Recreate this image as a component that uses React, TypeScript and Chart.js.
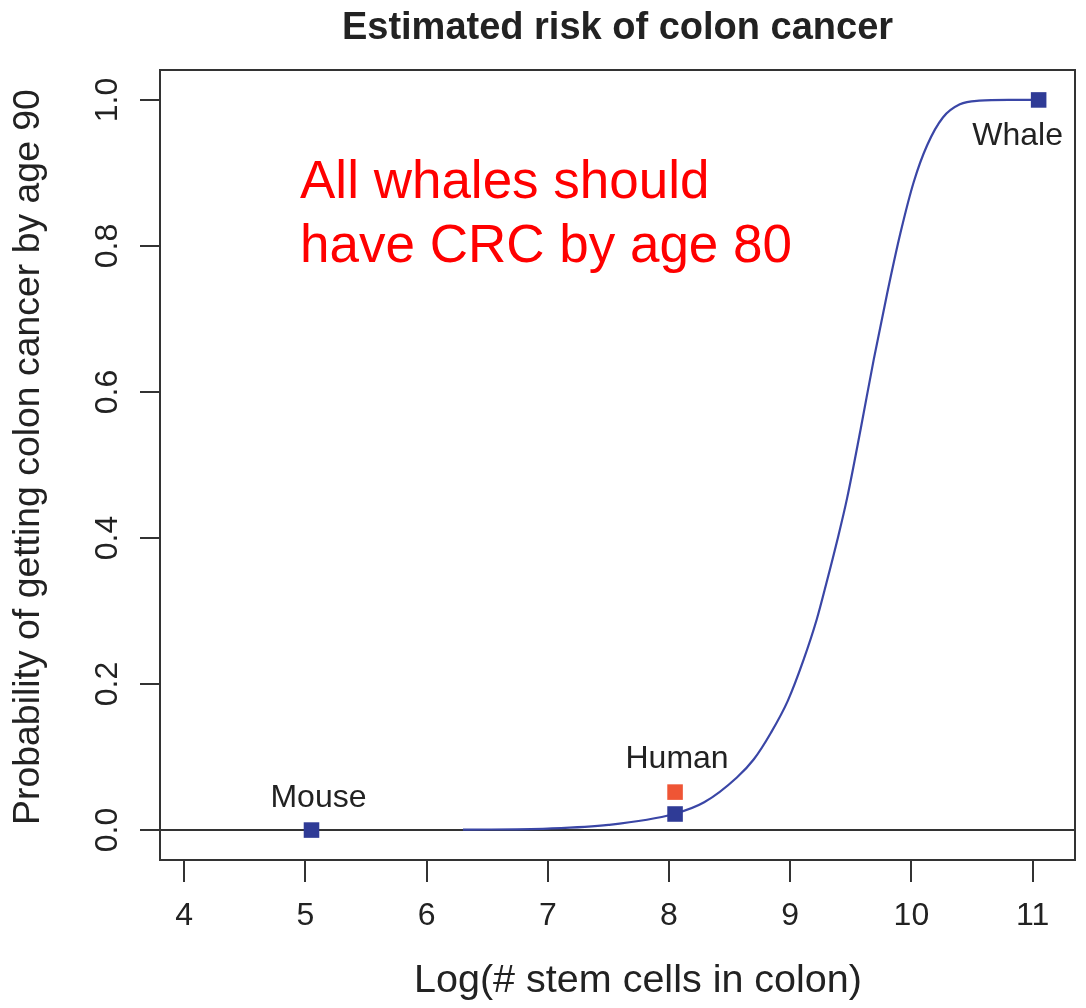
import React, { useEffect, useRef } from "react";
import { Chart, registerables } from "chart.js";

Chart.register(...registerables);

// ---- data ----
const curveX = [6.3, 7.0, 7.5, 8.04, 8.29, 8.56, 8.7, 8.84, 8.98, 9.11, 9.22, 9.3, 9.39, 9.47, 9.58, 9.69, 9.8, 9.91, 10.02, 10.13, 10.26, 10.4, 10.56, 10.8, 11.05];
const curveY = [0.0005, 0.002, 0.007, 0.022, 0.038, 0.072, 0.097, 0.133, 0.177, 0.233, 0.289, 0.339, 0.398, 0.455, 0.548, 0.645, 0.735, 0.818, 0.888, 0.938, 0.976, 0.994, 0.999, 1.0, 1.0];

const pointNames = ["Mouse", "Human", "Whale"];
const pointX = [5.05, 8.05, 11.05];
const pointY = [0.0, 0.022, 1.0];

const humanRiskX = [8.05];
const humanRiskY = [0.052];

const xTicks = [4, 5, 6, 7, 8, 9, 10, 11];
const yTicks = [0, 0.2, 0.4, 0.6, 0.8, 1.0];

const titleText = "Estimated risk of colon cancer";
const xTitle = "Log(# stem cells in colon)";
const yTitle = "Probability of getting colon cancer by age 90";
const noteLines = ["All whales should", "have CRC by age 80"];

const FONT = '"Liberation Sans", Arial, Helvetica, sans-serif';
const INK = "#222222";
const AXIS = "#333333";
const BLUE = "#2f3b96";
const LINE_BLUE = "#3a46a6";
const RED = "#ef5535";

const annotPlugin = {
  id: "annot",
  beforeDatasetsDraw(chart: any) {
    const { ctx, chartArea, scales } = chart;
    const y0 = scales.y.getPixelForValue(0);
    ctx.save();
    ctx.strokeStyle = AXIS;
    ctx.lineWidth = 2;
    ctx.beginPath();
    ctx.moveTo(chartArea.left, y0);
    ctx.lineTo(chartArea.right, y0);
    ctx.stroke();
    ctx.restore();
  },
  afterDraw(chart: any) {
    const { ctx, chartArea, scales } = chart;
    const xs = scales.x;
    const ys = scales.y;
    ctx.save();
    // box
    ctx.strokeStyle = AXIS;
    ctx.lineWidth = 2;
    ctx.strokeRect(chartArea.left, chartArea.top, chartArea.right - chartArea.left, chartArea.bottom - chartArea.top);

    // title
    ctx.fillStyle = INK;
    ctx.textAlign = "center";
    ctx.textBaseline = "alphabetic";
    ctx.font = `bold 38px ${FONT}`;
    ctx.fillText(titleText, (chartArea.left + chartArea.right) / 2, 39);

    // x title
    ctx.font = `39.5px ${FONT}`;
    ctx.fillText(xTitle, 638, 992);

    // y title
    ctx.save();
    ctx.translate(39, 457);
    ctx.rotate(-Math.PI / 2);
    ctx.font = `37.4px ${FONT}`;
    ctx.fillText(yTitle, 0, 0);
    ctx.restore();

    // point labels
    ctx.font = `32px ${FONT}`;
    const mx = xs.getPixelForValue(pointX[0]);
    const my = ys.getPixelForValue(pointY[0]);
    ctx.fillText(pointNames[0], mx + 7, my - 23);
    const hx = xs.getPixelForValue(humanRiskX[0]);
    const hy = ys.getPixelForValue(humanRiskY[0]);
    ctx.fillText(pointNames[1], hx + 2, hy - 24);
    const wx = xs.getPixelForValue(pointX[2]);
    const wy = ys.getPixelForValue(pointY[2]);
    ctx.fillText(pointNames[2], wx - 21, wy + 45);

    // red note
    ctx.fillStyle = "#ff0000";
    ctx.textAlign = "left";
    ctx.font = `53px ${FONT}`;
    ctx.fillText(noteLines[0], 300, 198);
    ctx.fillText(noteLines[1], 300, 262);
    ctx.restore();
  },
};

export default function App() {
  const ref = useRef<HTMLCanvasElement | null>(null);
  useEffect(() => {
    if (!ref.current) return;
    const chart = new Chart(ref.current, {
      type: "scatter",
      data: {
        datasets: [
          {
            label: "curve",
            data: curveX.map((x, i) => ({ x, y: curveY[i] })),
            showLine: true,
            borderColor: LINE_BLUE,
            borderWidth: 2.2,
            pointRadius: 0,
            cubicInterpolationMode: "monotone",
            order: 3,
          },
          {
            label: "risk",
            data: humanRiskX.map((x, i) => ({ x, y: humanRiskY[i] })),
            pointStyle: "rect",
            pointRadius: 11,
            backgroundColor: RED,
            borderColor: RED,
            borderWidth: 0,
            order: 2,
          },
          {
            label: "species",
            data: pointX.map((x, i) => ({ x, y: pointY[i] })),
            pointStyle: "rect",
            pointRadius: 11,
            backgroundColor: BLUE,
            borderColor: BLUE,
            borderWidth: 0,
            order: 1,
          },
        ],
      },
      options: {
        animation: false,
        responsive: false,
        events: [],
        layout: { padding: { top: 70, right: 6, left: 0, bottom: 0 } },
        plugins: { legend: { display: false }, tooltip: { enabled: false }, title: { display: false } },
        scales: {
          x: {
            type: "linear",
            min: 3.8,
            max: 11.35,
            afterBuildTicks: (s: any) => {
              s.ticks = xTicks.map((v) => ({ value: v }));
            },
            afterFit: (s: any) => {
              s.height = 148;
              s.paddingLeft = 0;
              s.paddingRight = 0;
            },
            grid: { drawOnChartArea: false, drawTicks: true, tickLength: 22, color: AXIS, lineWidth: 2 },
            border: { display: false },
            ticks: {
              padding: 15,
              color: INK,
              font: { family: FONT, size: 32 },
              callback: (v: any) => String(v),
              maxRotation: 0,
              autoSkip: false,
            },
          },
          y: {
            type: "linear",
            min: -0.041,
            max: 1.041,
            afterBuildTicks: (s: any) => {
              s.ticks = yTicks.map((v) => ({ value: v }));
            },
            afterFit: (s: any) => {
              s.width = 160;
            },
            grid: { drawOnChartArea: false, drawTicks: true, tickLength: 20, color: AXIS, lineWidth: 2 },
            border: { display: false },
            ticks: {
              padding: 10,
              color: INK,
              font: { family: FONT, size: 32 },
              minRotation: 90,
              maxRotation: 90,
              crossAlign: "center",
              autoSkip: false,
              callback: (v: any) => Number(v).toFixed(1),
            },
          },
        },
      },
      plugins: [annotPlugin],
    } as any);
    return () => chart.destroy();
  }, []);
  return (
    <div style={{ position: "absolute", left: 0, top: 0, width: 1086, height: 1008, background: "#fff" }}>
      <canvas ref={ref} width={1086} height={1008} style={{ display: "block", width: 1086, height: 1008 }} />
    </div>
  );
}
